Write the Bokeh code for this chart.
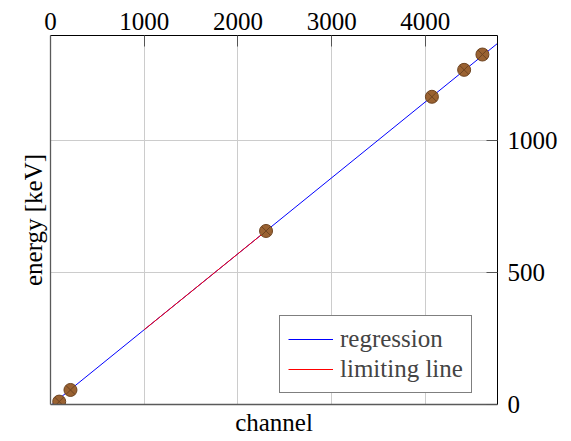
from bokeh.plotting import figure
from bokeh.models import (Range1d, LinearAxis, FixedTicker, Legend, LegendItem,
                          ColumnDataSource)
from bokeh.embed import file_html
from bokeh.resources import INLINE

# Calibration peaks: channel number vs. known energy
channel = [93, 213, 2300, 4070, 4414, 4609]
energy = [11, 55, 657, 1165, 1267, 1325]

# Regression line end points
reg_channel = [0, 4770]
reg_energy = [-4.3, 1367.0]

# Limiting line segment
lim_channel = [1000, 2250]
lim_energy = [283.2, 642.6]

x_ticks = [0, 1000, 2000, 3000, 4000]
y_ticks = [0, 500, 1000]

FONT = "Liberation Serif"
FS = "25px"

p = figure(width=571, height=441, output_backend="svg", toolbar_location=None,
           x_range=Range1d(0, 4770), y_range=Range1d(0, 1397),
           x_axis_location="above", y_axis_location="right",
           min_border_left=50, min_border_right=74,
           min_border_top=35, min_border_bottom=37)
p.outline_line_color = None
p.background_fill_color = "white"
p.border_fill_color = "white"

# tick axes on top and right
for ax, ticks in ((p.xaxis[0], x_ticks), (p.yaxis[0], y_ticks)):
    ax.ticker = FixedTicker(ticks=ticks)
    ax.major_tick_in = 11
    ax.major_tick_out = 0
    ax.major_tick_line_color = "#555555"
    ax.minor_tick_line_color = None
    ax.axis_line_color = "black"
    ax.axis_line_width = 1
    ax.major_label_text_font = FONT
    ax.major_label_text_font_size = FS
    ax.major_label_text_color = "black"
p.xaxis[0].major_label_standoff = 6
p.yaxis[0].major_label_standoff = 10

# label-only axes on bottom and left
bottom = LinearAxis(ticker=FixedTicker(ticks=[]), axis_label="channel")
left = LinearAxis(ticker=FixedTicker(ticks=[]), axis_label="energy [keV]")
for ax in (bottom, left):
    ax.axis_line_color = "#5a5a5a"
    ax.axis_line_width = 1.3
    ax.major_tick_line_color = None
    ax.minor_tick_line_color = None
    ax.axis_label_text_font = FONT
    ax.axis_label_text_font_size = FS
    ax.axis_label_text_font_style = "normal"
    ax.axis_label_text_color = "black"
    ax.major_label_text_font_size = "0px"
bottom.axis_label_standoff = 4
left.axis_label_standoff = 4
p.add_layout(bottom, "below")
p.add_layout(left, "left")

p.xgrid.grid_line_color = "#cccccc"
p.ygrid.grid_line_color = "#cccccc"
p.xgrid.ticker = FixedTicker(ticks=x_ticks)
p.ygrid.ticker = FixedTicker(ticks=y_ticks)

reg = p.line(reg_channel, reg_energy, line_color="blue", line_width=1)
lim = p.line(lim_channel, lim_energy, line_color="red", line_width=1)

src = ColumnDataSource(dict(channel=channel, energy=energy))
p.scatter("channel", "energy", source=src, marker="circle_x", size=13,
          fill_color="#9a6232", line_color="#6e4421", line_width=1)

legend = Legend(items=[LegendItem(label="regression", renderers=[reg]),
                       LegendItem(label="limiting line", renderers=[lim])],
                location=(229, 11), orientation="vertical",
                padding=8, spacing=0, margin=0,
                glyph_width=45, glyph_height=30, label_height=30,
                label_standoff=7,
                label_text_font=FONT, label_text_font_size=FS,
                border_line_color="black", border_line_width=1,
                background_fill_alpha=1.0)
p.add_layout(legend, "center")

open("out.html", "w").write(file_html(p, INLINE))
